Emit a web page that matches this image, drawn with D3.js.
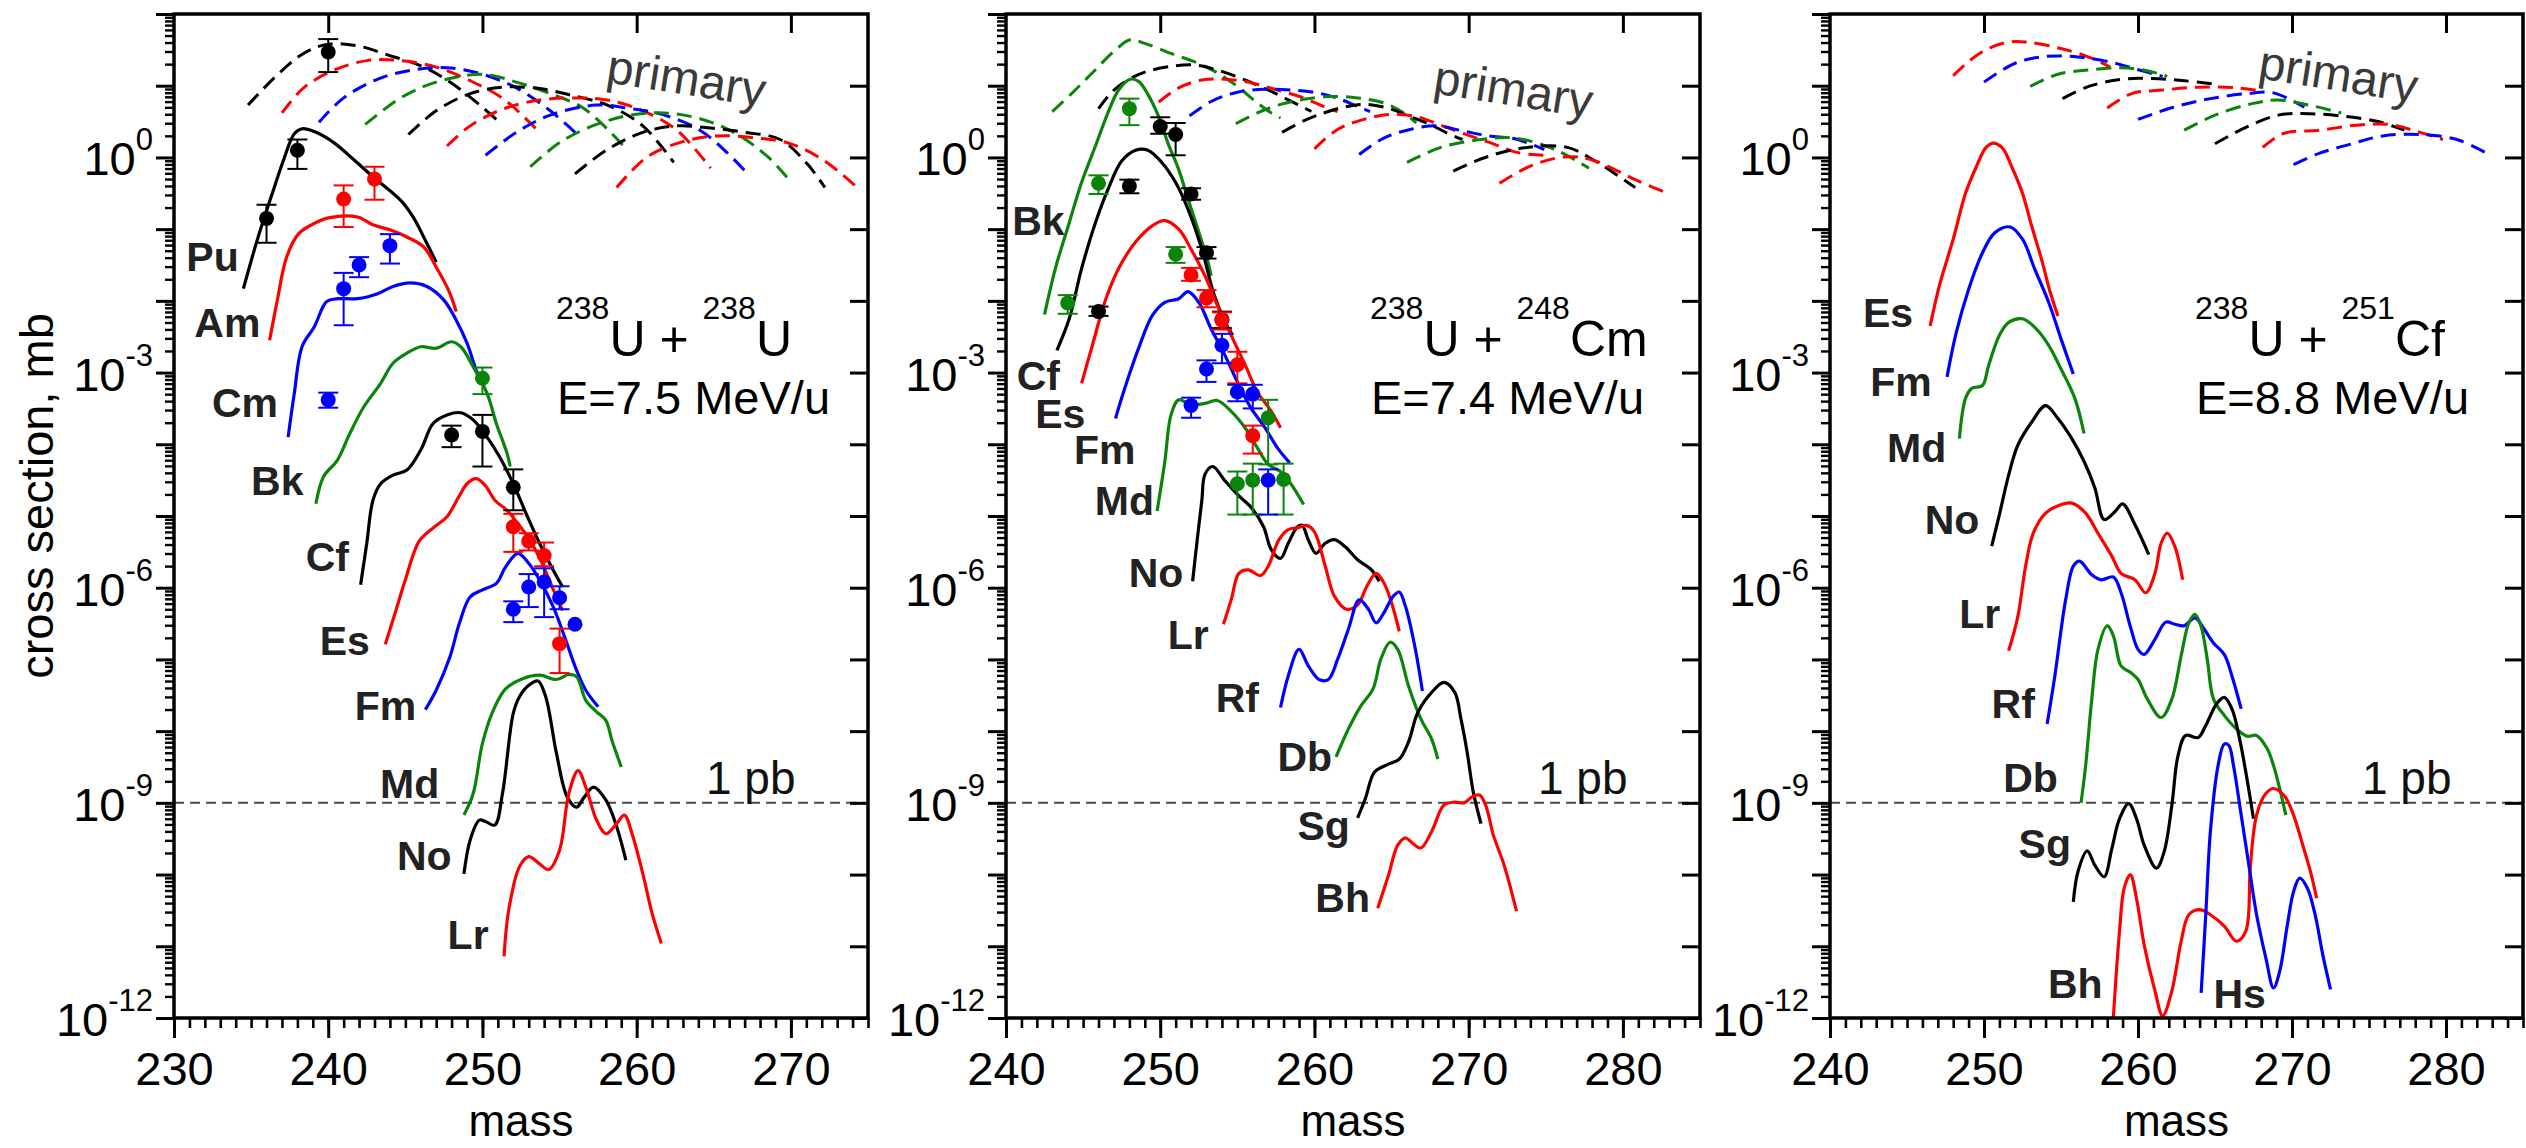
<!DOCTYPE html>
<html>
<head>
<meta charset="utf-8">
<script src="https://cdn.jsdelivr.net/npm/d3@7"></script>
<style>
  html, body { margin: 0; padding: 0; background: #ffffff; }
  svg { display: block; font-family: "Liberation Sans", Arial, Helvetica, sans-serif; }
</style>
</head>
<body>
<svg id="chart" width="2526" height="1148"></svg>
<script>
// All curves and points are [mass, log10(cross section / mb)].
// Measured points carry [mass, log10 σ, log10 upper bar, log10 lower bar].

// ---------- 238U + 238U, E = 7.5 MeV/u ----------
const uuPu = [[234.5,-1.83],[235.4,-1.15],[236.3,-0.55],[237.1,-0.04],[237.8,0.33],[238.3,0.40],[239.1,0.36],[240.4,0.20],[241.7,-0.04],[242.9,-0.27],[244.7,-0.60],[245.5,-0.83],[246.4,-1.20],[247.0,-1.46]];
const uuAm = [[236.2,-2.55],[236.7,-1.99],[237.3,-1.39],[238.1,-1.06],[239.1,-0.92],[240.1,-0.84],[241.9,-0.83],[242.9,-0.94],[244.0,-1.01],[245.1,-1.11],[246.2,-1.25],[247.0,-1.53],[247.8,-1.85],[248.3,-2.15]];
const uuCm = [[237.4,-3.90],[237.8,-3.29],[238.3,-2.64],[239.1,-2.36],[239.9,-2.01],[240.6,-1.97],[241.9,-1.97],[243.2,-1.90],[244.2,-1.80],[245.3,-1.75],[246.4,-1.80],[247.5,-1.99],[248.3,-2.27],[249.0,-2.59],[249.6,-2.97],[249.8,-3.06]];
const uuBk = [[239.2,-4.83],[239.7,-4.45],[240.6,-4.22],[241.4,-3.85],[242.3,-3.48],[243.4,-3.15],[244.2,-2.87],[245.1,-2.73],[246.0,-2.64],[247.0,-2.66],[248.0,-2.57],[248.6,-2.64],[249.4,-2.92],[250.3,-3.29],[250.9,-3.71],[251.6,-4.13],[251.8,-4.31]];
const uuCf = [[242.1,-5.96],[242.5,-5.38],[242.9,-4.78],[243.4,-4.55],[244.2,-4.43],[245.1,-4.36],[246.0,-4.08],[246.8,-3.71],[247.7,-3.59],[248.6,-3.56],[249.4,-3.66],[250.3,-3.90],[251.1,-4.17],[252.0,-4.55],[252.9,-5.00],[253.7,-5.38],[254.6,-5.76],[255.2,-5.99]];
const uuEs = [[243.7,-6.79],[244.4,-6.31],[245.0,-5.89],[245.9,-5.35],[246.9,-5.15],[247.7,-5.01],[248.5,-4.72],[249.0,-4.55],[249.6,-4.48],[250.2,-4.58],[250.8,-4.78],[251.6,-4.92],[252.2,-5.08],[252.9,-5.28],[253.7,-5.58],[254.5,-5.98],[255.2,-6.32]];
const uuFm = [[246.3,-7.70],[247.0,-7.43],[247.9,-6.96],[248.5,-6.50],[249.2,-6.13],[250.0,-6.03],[250.9,-5.94],[251.5,-5.71],[252.3,-5.52],[253.0,-5.66],[253.7,-5.89],[254.6,-6.27],[255.4,-6.73],[256.1,-7.15],[256.7,-7.43],[257.5,-7.66]];
const uuMd = [[248.8,-9.17],[249.4,-8.87],[250.0,-8.17],[250.7,-7.71],[251.5,-7.41],[252.6,-7.27],[253.7,-7.22],[254.8,-7.28],[255.6,-7.21],[256.1,-7.24],[256.7,-7.57],[257.4,-7.73],[258.0,-7.85],[258.4,-8.13],[259.0,-8.50]];
const uuNo = [[248.8,-9.99],[249.2,-9.52],[249.8,-9.24],[250.2,-9.26],[250.8,-9.31],[251.3,-8.87],[252.0,-7.75],[252.4,-7.52],[253.0,-7.36],[253.6,-7.30],[254.1,-7.52],[254.8,-8.31],[255.5,-8.92],[256.1,-9.06],[256.6,-8.92],[257.2,-8.78],[258.0,-8.96],[258.7,-9.33],[259.3,-9.80]];
const uuLr = [[251.4,-11.14],[251.7,-10.50],[252.4,-9.89],[253.0,-9.75],[253.7,-9.85],[254.3,-9.93],[255.0,-9.66],[255.6,-8.87],[256.2,-8.55],[256.7,-8.78],[257.4,-9.24],[258.0,-9.43],[258.7,-9.29],[259.2,-9.17],[259.7,-9.43],[260.4,-9.99],[261.0,-10.54],[261.6,-10.96]];

// primary (pre-evaporation) distributions, drawn dashed
const uuPrim1 = [[234.8,0.73],[236.6,1.13],[238.4,1.45],[240.0,1.58],[241.8,1.56],[244.0,1.42],[246.2,1.26],[248.1,1.02],[250.0,0.70],[251.1,0.49]];
const uuPrim2 = [[237.0,0.62],[238.4,0.97],[240.3,1.21],[242.5,1.35],[244.7,1.35],[247.0,1.26],[249.2,1.07],[251.4,0.81],[253.7,0.35]];
const uuPrim3 = [[239.4,0.49],[241.0,0.83],[243.3,1.10],[245.5,1.22],[247.7,1.25],[250.0,1.16],[252.2,0.97],[254.4,0.65],[256.1,0.33]];
const uuPrim4 = [[242.4,0.46],[244.7,0.83],[247.0,1.05],[250.0,1.16],[252.2,1.05],[254.4,0.89],[256.6,0.68],[259.1,0.17]];
const uuPrim5 = [[245.2,0.32],[247.0,0.65],[249.2,0.89],[251.4,0.98],[253.7,0.96],[255.9,0.86],[258.1,0.73],[260.4,0.44],[262.4,-0.07]];
const uuPrim6 = [[247.7,0.16],[249.2,0.44],[251.4,0.68],[253.7,0.80],[255.9,0.83],[258.1,0.80],[260.4,0.65],[262.6,0.38],[264.8,-0.15]];
const uuPrim7 = [[250.2,0.03],[252.2,0.35],[254.4,0.59],[257.4,0.73],[259.6,0.68],[261.8,0.59],[264.1,0.38],[265.9,0.06],[267.2,-0.23]];
const uuPrim8 = [[253.1,-0.13],[255.1,0.22],[257.4,0.46],[259.6,0.59],[261.8,0.62],[264.1,0.54],[266.3,0.35],[268.5,0.01],[269.8,-0.29]];
const uuPrim9 = [[256.0,-0.23],[258.1,0.11],[260.4,0.35],[262.6,0.44],[264.8,0.41],[267.0,0.35],[269.3,0.25],[271.1,-0.10],[272.2,-0.42]];
const uuPrim10 = [[258.7,-0.42],[260.7,0.01],[263.0,0.22],[265.2,0.30],[267.8,0.27],[270.0,0.19],[272.2,-0.05],[274.3,-0.42]];

// measured yields
const uuDataK = [[236,-0.85,-0.66,-1.19],[238,0.10,0.25,-0.16],[240,1.47,1.65,1.19],[248,-3.87,-3.74,-4.04],[250,-3.82,-3.59,-4.31],[252,-4.60,-4.35,-4.92]];
const uuDataR = [[241,-0.58,-0.39,-0.97],[243,-0.30,-0.13,-0.59],[252,-5.15,-4.97,-5.50],[253,-5.35,-5.24,-5.48],[254,-5.55,-5.37,-5.70],[255,-6.78,-6.57,-7.19]];
const uuDataB = [[240,-3.38,-3.28,-3.49],[241,-1.83,-1.61,-2.34],[242,-1.50,-1.39,-1.67],[244,-1.23,-1.07,-1.48],[252,-6.30,-6.19,-6.48],[253,-5.99,-5.81,-6.27],[254,-5.92,-5.73,-6.41],[255,-6.14,-5.98,-6.30],[256,-6.51,null,null]];
const uuDataG = [[250,-3.08,-2.93,-3.30]];

// ---------- 238U + 248Cm, E = 7.4 MeV/u ----------
const ucBk = [[242.5,-2.19],[243.2,-1.55],[244.1,-0.91],[244.9,-0.35],[245.8,0.16],[246.7,0.67],[247.3,0.94],[248.05,1.09],[248.6,1.06],[249.2,0.88],[249.9,0.57],[250.5,0.20],[251.2,-0.17],[251.8,-0.58],[252.5,-1.04],[253.1,-1.46],[253.3,-1.65]];
const ucCf = [[243.3,-2.69],[244.1,-2.25],[244.9,-1.55],[245.8,-0.91],[246.7,-0.40],[247.5,-0.05],[248.4,0.10],[249.2,0.10],[250.1,-0.07],[251.0,-0.35],[251.8,-0.72],[252.7,-1.28],[253.5,-1.92],[254.2,-2.29],[254.7,-2.48]];
const ucEs = [[244.9,-3.15],[245.6,-2.62],[246.4,-2.02],[247.3,-1.55],[248.4,-1.18],[249.5,-0.95],[250.3,-0.88],[251.2,-1.00],[252.0,-1.28],[252.9,-1.65],[253.7,-2.06],[254.6,-2.48],[255.5,-2.89],[256.3,-3.27],[257.2,-3.54],[257.8,-3.77]];
const ucFm = [[247.1,-3.64],[247.7,-3.22],[248.6,-2.66],[249.5,-2.20],[250.3,-2.02],[251.2,-1.97],[251.8,-1.87],[252.5,-2.02],[253.3,-2.39],[254.2,-2.76],[255.0,-3.13],[255.9,-3.50],[256.8,-3.77],[257.6,-4.05],[258.4,-4.26]];
const ucMd = [[249.8,-4.93],[250.3,-4.24],[250.7,-3.59],[251.2,-3.38],[252.0,-3.45],[252.9,-3.43],[253.7,-3.39],[254.6,-3.54],[255.5,-3.77],[256.3,-4.05],[257.0,-4.28],[257.8,-4.38],[258.5,-4.56],[259.3,-4.84]];
const ucNo = [[252.1,-5.91],[252.4,-5.33],[252.7,-4.78],[252.9,-4.42],[253.4,-4.31],[254.2,-4.51],[255.0,-4.70],[255.9,-4.88],[256.7,-5.15],[257.2,-5.47],[257.8,-5.59],[258.3,-5.38],[258.9,-5.15],[259.2,-5.13],[259.6,-5.33],[260.1,-5.52],[260.7,-5.38],[261.3,-5.33],[262.0,-5.43],[262.8,-5.61],[263.7,-5.75],[264.2,-5.91]];
const ucLr = [[254.1,-6.51],[254.6,-6.17],[255.1,-5.80],[255.7,-5.75],[256.5,-5.83],[257.0,-5.70],[257.7,-5.33],[258.3,-5.19],[259.0,-5.16],[259.5,-5.13],[260.0,-5.22],[260.7,-5.70],[261.3,-6.12],[262.1,-6.30],[262.8,-6.24],[263.4,-5.98],[264.0,-5.80],[264.5,-5.93],[265.0,-6.21],[265.5,-6.61]];
const ucRf = [[257.8,-7.67],[258.3,-7.23],[259.0,-6.86],[259.6,-7.09],[260.3,-7.28],[260.9,-7.28],[261.5,-7.00],[262.2,-6.58],[262.9,-6.17],[263.5,-6.30],[264.0,-6.49],[264.5,-6.35],[265.1,-6.12],[265.5,-6.06],[265.9,-6.26],[266.5,-6.81],[267.0,-7.44]];
const ucDb = [[261.4,-8.36],[262.2,-7.97],[263.0,-7.65],[263.8,-7.41],[264.3,-7.00],[264.9,-6.76],[265.4,-6.86],[266.1,-7.37],[266.9,-7.83],[267.6,-8.11],[268.0,-8.39]];
const ucSg = [[262.8,-9.21],[263.3,-8.94],[263.9,-8.57],[264.8,-8.46],[265.5,-8.39],[266.1,-8.15],[266.7,-7.74],[267.6,-7.46],[268.4,-7.32],[269.1,-7.46],[269.5,-7.83],[269.9,-8.29],[270.3,-8.85],[270.8,-9.29]];
const ucBh = [[264.1,-10.47],[264.8,-10.01],[265.4,-9.59],[265.9,-9.49],[266.4,-9.57],[266.9,-9.63],[267.6,-9.40],[268.4,-9.03],[269.1,-8.99],[269.7,-9.00],[270.2,-8.92],[270.7,-8.89],[271.1,-9.03],[271.6,-9.45],[272.3,-9.87],[273.1,-10.51]];

const ucPrim1 = [[243.0,0.64],[244.3,0.90],[245.6,1.18],[247.1,1.50],[248.05,1.64],[249.0,1.59],[250.7,1.45],[252.5,1.31],[253.7,1.18],[255.0,0.99],[256.3,0.76],[257.2,0.62],[257.8,0.55]];
const ucPrim2 = [[246.0,0.68],[246.9,0.92],[247.9,1.08],[249.0,1.19],[250.7,1.27],[252.2,1.29],[253.7,1.22],[255.5,1.08],[257.2,0.92],[258.7,0.76],[259.8,0.64]];
const ucPrim3 = [[249.9,0.77],[251.2,0.97],[252.7,1.08],[254.2,1.09],[255.9,1.04],[257.6,0.94],[259.3,0.83],[260.6,0.71],[261.5,0.64]];
const ucPrim4 = [[251.9,0.58],[253.3,0.78],[255.0,0.91],[256.8,0.95],[258.5,0.94],[260.2,0.90],[261.7,0.81],[262.8,0.71],[263.6,0.64]];
const ucPrim5 = [[254.9,0.47],[256.3,0.62],[257.8,0.74],[259.3,0.81],[261.0,0.85],[262.8,0.83],[264.5,0.76],[265.8,0.62],[266.6,0.48]];
const ucPrim6 = [[257.9,0.35],[259.3,0.51],[260.6,0.62],[261.9,0.70],[263.2,0.74],[264.7,0.69],[266.2,0.57],[267.5,0.46],[268.6,0.34],[269.6,0.25]];
const ucPrim7 = [[260.0,0.12],[261.5,0.39],[263.2,0.53],[264.9,0.60],[266.6,0.57],[268.3,0.44],[270.1,0.30],[271.6,0.19],[273.1,0.07],[274.9,0.03]];
const ucPrim8 = [[262.9,0.04],[264.5,0.27],[266.2,0.39],[267.9,0.44],[269.6,0.37],[271.3,0.30],[273.0,0.26],[274.9,0.11]];
const ucPrim9 = [[266.0,-0.07],[268.2,0.14],[270.8,0.25],[273.0,0.27],[275.6,0.11],[277.8,-0.15]];
const ucPrim10 = [[269.0,-0.19],[271.2,0.01],[273.8,0.14],[276.4,0.14],[278.2,-0.05],[280.8,-0.42]];
const ucPrim11 = [[272.0,-0.36],[274.1,-0.11],[276.4,0.01],[278.2,-0.05],[280.8,-0.31],[282.9,-0.50]];

const ucDataG = [[244,-2.03,-1.92,-2.18],[246,-0.36,-0.25,-0.51],[248,0.68,0.82,0.45],[251,-1.35,-1.25,-1.47],[257,-3.63,-3.38,-4.28],[255,-4.55,-4.38,-4.98],[256,-4.50,-4.27,-4.98],[258,-4.49,-4.27,-4.98]];
const ucDataK = [[246,-2.15,-2.08,-2.21],[248,-0.40,-0.31,-0.50],[250,0.43,0.56,0.33],[251,0.32,0.48,0.03],[252,-0.51,-0.43,-0.59],[253,-1.33,-1.25,-1.41],[254,-2.26,-2.15,-2.38]];
const ucDataR = [[252,-1.64,-1.54,-1.72],[253,-1.96,-1.85,-2.09],[254,-2.27,-2.16,-2.40],[255,-2.89,-2.71,-3.15],[256,-3.88,-3.74,-4.13]];
const ucDataB = [[252,-3.46,-3.35,-3.63],[253,-2.95,-2.83,-3.13],[254,-2.62,-2.46,-2.87],[255,-3.27,-3.17,-3.40],[256,-3.30,-3.17,-3.50],[257,-4.50,-4.35,-4.98]];

// ---------- 238U + 251Cf, E = 8.8 MeV/u ----------
const ufEs = [[246.5,-2.35],[247.1,-1.79],[248.0,-1.14],[248.8,-0.50],[249.5,-0.13],[250.1,0.13],[250.6,0.20],[251.2,0.13],[251.8,-0.13],[252.5,-0.50],[253.1,-0.96],[253.8,-1.47],[254.3,-1.88],[254.8,-2.21]];
const ufFm = [[247.6,-3.06],[248.2,-2.44],[249.0,-1.84],[249.9,-1.33],[250.7,-1.05],[251.7,-0.97],[252.5,-1.14],[253.3,-1.56],[254.2,-2.02],[255.0,-2.53],[255.8,-3.02]];
const ufMd = [[248.4,-3.92],[248.8,-3.36],[249.2,-3.22],[249.9,-3.18],[250.3,-2.90],[251.0,-2.48],[251.6,-2.30],[252.5,-2.25],[253.3,-2.37],[254.2,-2.62],[255.0,-2.95],[255.9,-3.36],[256.5,-3.85]];
const ufNo = [[250.5,-5.42],[251.0,-4.98],[251.6,-4.43],[252.2,-4.01],[253.1,-3.69],[254.0,-3.46],[254.8,-3.64],[255.7,-3.92],[256.5,-4.24],[257.2,-4.61],[257.8,-5.05],[258.5,-4.94],[259.0,-4.83],[259.8,-5.12],[260.7,-5.54]];
const ufLr = [[251.6,-6.88],[252.2,-6.40],[252.7,-5.70],[253.2,-5.24],[254.0,-4.96],[254.9,-4.85],[255.7,-4.82],[256.6,-4.96],[257.4,-5.24],[258.3,-5.56],[258.9,-5.80],[259.8,-5.89],[260.5,-6.07],[261.1,-5.80],[261.5,-5.38],[261.9,-5.24],[262.4,-5.43],[262.9,-5.89]];
const ufRf = [[254.1,-7.90],[254.6,-7.23],[255.3,-6.17],[255.8,-5.70],[256.2,-5.63],[257.0,-5.82],[257.6,-5.89],[258.4,-5.85],[258.9,-6.07],[259.5,-6.54],[260.0,-6.86],[260.4,-6.93],[261.1,-6.72],[261.8,-6.48],[262.4,-6.51],[263.0,-6.53],[263.7,-6.42],[264.3,-6.58],[264.9,-6.77],[265.6,-6.93],[266.1,-7.23],[266.7,-7.69]];
const ufDb = [[256.3,-9.00],[256.6,-8.48],[257.0,-7.55],[257.4,-6.86],[258.0,-6.53],[258.4,-6.67],[258.9,-7.09],[259.5,-7.18],[260.0,-7.28],[260.6,-7.55],[261.5,-7.81],[262.2,-7.55],[262.8,-6.95],[263.3,-6.49],[263.7,-6.37],[264.1,-6.54],[264.5,-7.00],[264.9,-7.55],[265.6,-7.78],[266.4,-7.97],[267.1,-8.07],[267.7,-8.06],[268.4,-8.25],[268.8,-8.48],[269.2,-8.80],[269.6,-9.17]];
const ufSg = [[255.8,-10.38],[256.1,-9.96],[256.7,-9.67],[257.2,-9.87],[257.8,-10.03],[258.3,-9.64],[258.8,-9.22],[259.4,-9.01],[259.9,-9.22],[260.4,-9.59],[261.2,-9.91],[261.7,-9.68],[262.2,-9.03],[262.6,-8.34],[263.1,-8.06],[263.9,-8.09],[264.4,-7.92],[265.1,-7.62],[265.6,-7.53],[266.1,-7.69],[266.6,-8.11],[267.0,-8.57],[267.5,-9.22]];
const ufBh = [[258.4,-11.99],[258.8,-10.79],[259.1,-10.19],[259.5,-10.00],[259.9,-10.33],[260.4,-10.98],[261.1,-11.62],[261.6,-11.97],[262.2,-11.62],[262.8,-10.93],[263.3,-10.56],[264.0,-10.49],[264.7,-10.56],[265.6,-10.72],[266.4,-10.93],[267.0,-10.79],[267.3,-9.87],[267.7,-9.17],[268.3,-8.87],[268.8,-8.80],[269.5,-8.90],[270.1,-9.17],[270.7,-9.59],[271.2,-9.96],[271.6,-10.33]];
const ufHs = [[264.1,-11.65],[264.4,-10.56],[264.7,-9.40],[265.2,-8.48],[265.6,-8.18],[265.9,-8.20],[266.2,-8.48],[266.7,-9.17],[267.2,-9.87],[267.7,-10.56],[268.3,-11.16],[268.8,-11.58],[269.2,-11.35],[269.7,-10.70],[270.1,-10.24],[270.5,-10.05],[271.0,-10.19],[271.5,-10.56],[272.0,-11.12],[272.5,-11.60]];

const ufPrim1 = [[248.0,1.14],[249.7,1.45],[251.4,1.60],[252.7,1.61],[254.8,1.53],[256.8,1.40],[258.2,1.26]];
const ufPrim2 = [[250.0,1.05],[252.1,1.32],[254.1,1.41],[256.1,1.40],[258.2,1.33],[259.9,1.23],[261.6,1.13]];
const ufPrim3 = [[253.0,0.99],[254.8,1.16],[256.8,1.22],[258.9,1.25],[260.6,1.21],[261.9,1.13]];
const ufPrim4 = [[255.1,0.82],[256.8,0.99],[258.9,1.09],[260.9,1.10],[263.0,1.07],[265.0,1.02]];
const ufPrim5 = [[258.0,0.69],[259.6,0.89],[261.6,0.94],[264.0,0.98],[266.4,0.97],[268.1,0.92]];
const ufPrim6 = [[260.0,0.53],[262.3,0.70],[264.7,0.82],[267.1,0.89],[268.8,0.90],[270.8,0.70]];
const ufPrim7 = [[263.0,0.38],[265.0,0.59],[267.4,0.75],[269.1,0.80],[271.1,0.73],[273.2,0.62]];
const ufPrim8 = [[265.0,0.19],[267.1,0.43],[269.1,0.59],[271.1,0.61],[273.5,0.57],[275.6,0.50],[277.3,0.38]];
const ufPrim9 = [[268.1,0.14],[269.4,0.33],[271.8,0.38],[274.2,0.45],[276.3,0.46],[278.3,0.35],[279.8,0.25]];
const ufPrim10 = [[270.1,-0.10],[271.8,0.06],[273.9,0.19],[275.9,0.30],[278.3,0.32],[280.7,0.25],[282.9,0.03]];

// ---------- axis ticks and texts ----------
const massDomains = [[230, 275], [240, 285], [240, 285]];
const majorMass = [[230, 240, 250, 260, 270], [240, 250, 260, 270, 280], [240, 250, 260, 270, 280]];
const labelledExponents = [-12, -9, -6, -3, 0];
const targets = [["238", "U"], ["248", "Cm"], ["251", "Cf"]];
const energies = ["E=7.5 MeV/u", "E=7.4 MeV/u", "E=8.8 MeV/u"];

// ---------- table of series for each panel ----------
const colors = { k: "#000000", r: "#ff0000", b: "#0000ff", g: "#0a850a" };

const panels = [
  {
    solid: [["Pu","k",uuPu],["Am","r",uuAm],["Cm","b",uuCm],["Bk","g",uuBk],["Cf","k",uuCf],["Es","r",uuEs],["Fm","b",uuFm],["Md","g",uuMd],["No","k",uuNo],["Lr","r",uuLr]],
    primary: [["k",uuPrim1],["r",uuPrim2],["b",uuPrim3],["g",uuPrim4],["k",uuPrim5],["r",uuPrim6],["b",uuPrim7],["g",uuPrim8],["k",uuPrim9],["r",uuPrim10]],
    points: [["k",uuDataK],["r",uuDataR],["b",uuDataB],["g",uuDataG]]
  },
  {
    solid: [["Bk","g",ucBk],["Cf","k",ucCf],["Es","r",ucEs],["Fm","b",ucFm],["Md","g",ucMd],["No","k",ucNo],["Lr","r",ucLr],["Rf","b",ucRf],["Db","g",ucDb],["Sg","k",ucSg],["Bh","r",ucBh]],
    primary: [["g",ucPrim1],["k",ucPrim2],["r",ucPrim3],["b",ucPrim4],["g",ucPrim5],["k",ucPrim6],["r",ucPrim7],["b",ucPrim8],["g",ucPrim9],["k",ucPrim10],["r",ucPrim11]],
    points: [["g",ucDataG],["k",ucDataK],["r",ucDataR],["b",ucDataB]]
  },
  {
    solid: [["Es","r",ufEs],["Fm","b",ufFm],["Md","g",ufMd],["No","k",ufNo],["Lr","r",ufLr],["Rf","b",ufRf],["Db","g",ufDb],["Sg","k",ufSg],["Bh","r",ufBh],["Hs","b",ufHs]],
    primary: [["r",ufPrim1],["b",ufPrim2],["g",ufPrim3],["k",ufPrim4],["r",ufPrim5],["b",ufPrim6],["g",ufPrim7],["k",ufPrim8],["r",ufPrim9],["b",ufPrim10]],
    points: []
  }
];

// ---------- layout ----------
const plotTop = 14, plotBottom = 1018;
const frames = [{ left: 174, right: 868 }, { left: 1006, right: 1700 }, { left: 1830, right: 2523 }];
// element name anchors (right end of the word, baseline), in data units
const elementAnchors = [
  { Pu:[234.2,-1.58], Am:[235.6,-2.50], Cm:[236.75,-3.62], Bk:[238.4,-4.71], Cf:[241.35,-5.77], Es:[242.7,-6.94], Fm:[245.7,-7.85], Md:[247.2,-8.93], No:[248.0,-9.94], Lr:[250.4,-11.04] },
  { Bk:[243.8,-1.08], Cf:[243.5,-3.24], Es:[245.15,-3.77], Fm:[248.4,-4.28], Md:[249.6,-4.99], No:[251.5,-5.99], Lr:[253.15,-6.86], Rf:[256.4,-7.74], Db:[261.15,-8.56], Sg:[262.3,-9.52], Bh:[263.6,-10.52] },
  { Es:[245.4,-2.37], Fm:[246.6,-3.33], Md:[247.55,-4.25], No:[249.7,-5.25], Lr:[251.05,-6.56], Rf:[253.3,-7.82], Db:[254.8,-8.85], Sg:[255.65,-9.77], Bh:[257.7,-11.72], Hs:[268.3,-11.86] }
];
const titleOffsetX = [382, 364, 365];
const primaryTextAt = [[431, 82], [426, 93], [427, 78]];

const svg = d3.select("#chart");
const y = d3.scaleLog().domain([1e-12, 1e2]).range([plotBottom, plotTop]);
const decades = d3.range(-12, 3).map(e => Math.pow(10, e));
const minorValues = [];
d3.range(-12, 2).forEach(e => { for (let k = 2; k <= 9; k++) minorValues.push(k * Math.pow(10, e)); });

const lineGen = (x) => d3.line()
  .x(d => x(d[0]))
  .y(d => y(Math.pow(10, d[1])))
  .curve(d3.curveCatmullRom.alpha(0.5));

function styleAxis(g, width) {
  g.select(".domain").remove();
  g.selectAll(".tick line").attr("stroke", "#000").attr("stroke-width", width);
}

panels.forEach((p, i) => {
  const f = frames[i];
  const x = d3.scaleLinear().domain(massDomains[i]).range([f.left, f.right]);
  const g = svg.append("g");
  const line = lineGen(x);

  // 1 pb reference
  g.append("line")
    .attr("x1", f.left).attr("x2", f.right)
    .attr("y1", y(1e-9)).attr("y2", y(1e-9))
    .attr("stroke", "#4a4a4a").attr("stroke-width", 2).attr("stroke-dasharray", "10,6");
  g.append("text")
    .attr("x", f.left + 532).attr("y", 794)
    .attr("font-size", 46).attr("fill", "#111").text("1 pb");

  // primary distributions
  g.selectAll(".prim").data(p.primary).join("path")
    .attr("d", d => line(d[1]))
    .attr("fill", "none").attr("stroke", d => colors[d[0]])
    .attr("stroke-width", 3).attr("stroke-dasharray", "15,8");

  // surviving (secondary) distributions
  g.selectAll(".sec").data(p.solid).join("path")
    .attr("d", d => line(d[2]))
    .attr("fill", "none").attr("stroke", d => colors[d[1]])
    .attr("stroke-width", 3.2).attr("stroke-linejoin", "round");

  // measured points with error bars
  p.points.forEach(([c, pts]) => {
    const col = colors[c];
    pts.forEach(d => {
      const cx = x(d[0]);
      if (d[2] !== null) {
        const yt = y(Math.pow(10, d[2])), yb = y(Math.pow(10, d[3]));
        g.append("line").attr("x1", cx).attr("x2", cx).attr("y1", yt).attr("y2", yb)
          .attr("stroke", col).attr("stroke-width", 2);
        [yt, yb].forEach(yy => g.append("line")
          .attr("x1", cx - 10).attr("x2", cx + 10).attr("y1", yy).attr("y2", yy)
          .attr("stroke", col).attr("stroke-width", 2));
      }
      g.append("circle").attr("cx", cx).attr("cy", y(Math.pow(10, d[1]))).attr("r", 7.5).attr("fill", col);
    });
  });

  // element names
  p.solid.forEach(([el]) => {
    const a = elementAnchors[i][el];
    g.append("text")
      .attr("x", x(a[0])).attr("y", y(Math.pow(10, a[1])))
      .attr("text-anchor", "end").attr("font-size", 41).attr("font-weight", "bold")
      .attr("fill", "#222").text(el);
  });

  // "primary" caption
  g.append("text")
    .attr("transform", `translate(${f.left + primaryTextAt[i][0]},${primaryTextAt[i][1]}) rotate(9)`)
    .attr("font-size", 48).attr("fill", "#3a3a3a").text("primary");

  // reaction title and energy
  const tx = f.left + titleOffsetX[i];
  const title = g.append("text").attr("x", tx).attr("y", 356).attr("font-size", 50).attr("fill", "#000");
  title.append("tspan").attr("font-size", 32).attr("dy", -37).text("238");
  title.append("tspan").attr("dy", 37).text("U + ");
  title.append("tspan").attr("font-size", 32).attr("dy", -37).text(targets[i][0]);
  title.append("tspan").attr("dy", 37).text(targets[i][1]);
  g.append("text").attr("x", tx + 1).attr("y", 414).attr("font-size", 47).attr("fill", "#000").text(energies[i]);

  // axes
  const [m0, m1] = massDomains[i];
  g.append("g").attr("transform", `translate(0,${plotBottom})`)
    .call(d3.axisBottom(x).tickValues(d3.range(m0, m1 + 0.5, 1)).tickSize(10).tickFormat(""))
    .call(s => styleAxis(s, 2.6));
  g.append("g").attr("transform", `translate(0,${plotBottom})`)
    .call(d3.axisBottom(x).tickValues(majorMass[i]).tickSize(20).tickPadding(14).tickFormat(d3.format("d")))
    .call(s => {
      styleAxis(s, 3);
      s.selectAll("text").attr("font-size", 47).attr("fill", "#000")
        .attr("font-family", "'Liberation Sans', Arial, sans-serif");
    });
  g.append("g").attr("transform", `translate(0,${plotTop})`)
    .call(d3.axisTop(x).tickValues(majorMass[i].slice(1)).tickSize(-19).tickFormat(""))
    .call(s => styleAxis(s, 3));
  g.append("g").attr("transform", `translate(${f.left},0)`)
    .call(d3.axisLeft(y).tickValues(minorValues).tickSize(9).tickFormat(""))
    .call(s => styleAxis(s, 2.4));
  g.append("g").attr("transform", `translate(${f.left},0)`)
    .call(d3.axisLeft(y).tickValues(decades).tickSize(18).tickFormat(""))
    .call(s => styleAxis(s, 3));
  g.append("g").attr("transform", `translate(${f.right},0)`)
    .call(d3.axisRight(y).tickValues(decades.slice(0, -1)).tickSize(-18).tickFormat(""))
    .call(s => styleAxis(s, 3));

  // power-of-ten labels
  labelledExponents.forEach(e => {
    const t = g.append("text")
      .attr("x", f.left - 21).attr("y", y(Math.pow(10, e)) + 18)
      .attr("text-anchor", "end").attr("font-size", 47).attr("fill", "#000");
    t.append("tspan").text("10");
    t.append("tspan").attr("font-size", 31).attr("dy", -25).text(String(e));
  });

  // frame
  g.append("rect")
    .attr("x", f.left).attr("y", plotTop)
    .attr("width", f.right - f.left).attr("height", plotBottom - plotTop)
    .attr("fill", "none").attr("stroke", "#000").attr("stroke-width", 3.5);

  // mass label
  g.append("text")
    .attr("x", (f.left + f.right) / 2).attr("y", 1136)
    .attr("text-anchor", "middle").attr("font-size", 44).attr("fill", "#000").text("mass");
});

// shared y-axis title
svg.append("text")
  .attr("transform", "translate(53,496) rotate(-90)")
  .attr("text-anchor", "middle").attr("font-size", 47).attr("fill", "#000")
  .text("cross section, mb");
</script>
</body>
</html>
